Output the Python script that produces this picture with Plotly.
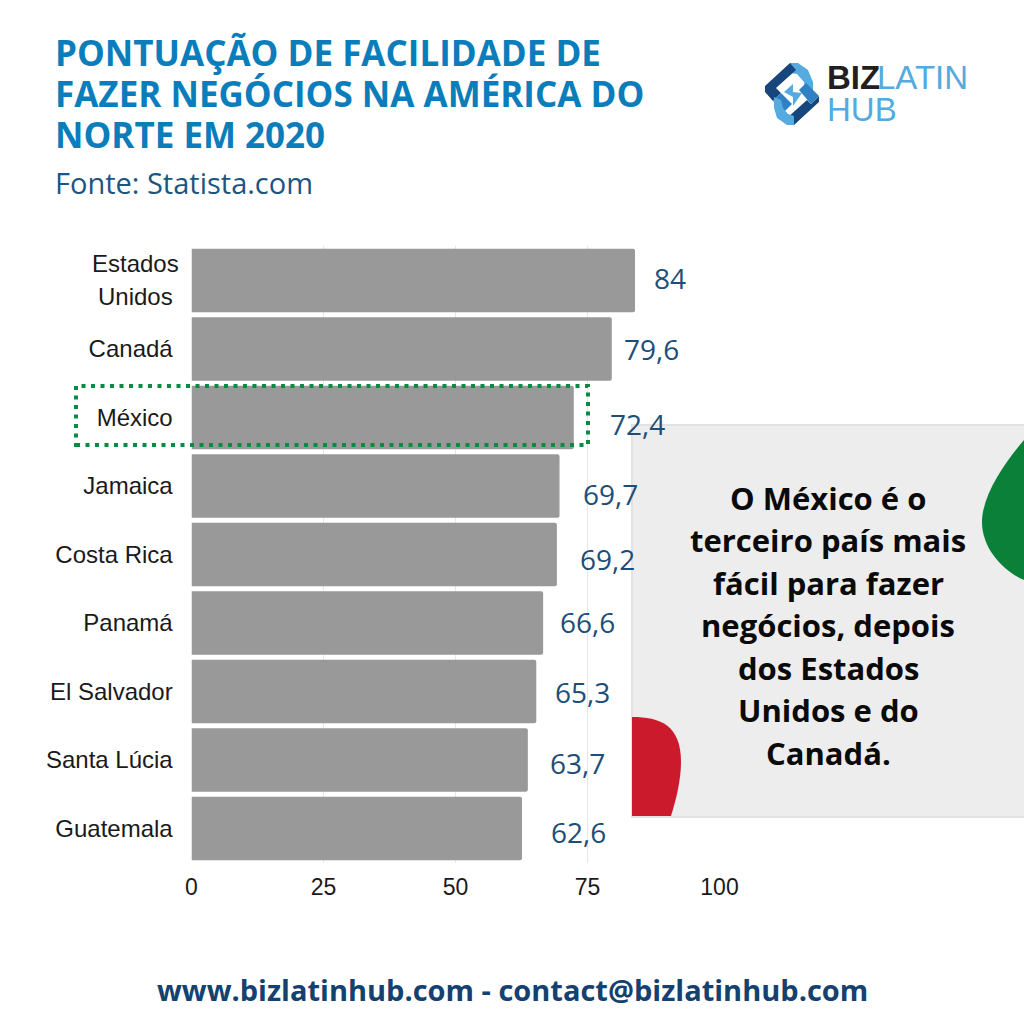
import plotly.express as px

countries = ['Estados Unidos', 'Canadá', 'México', 'Jamaica', 'Costa Rica', 'Panamá', 'El Salvador', 'Santa Lúcia', 'Guatemala']
scores = [84, 79.6, 72.4, 69.7, 69.2, 66.6, 65.3, 63.7, 62.6]
score_labels = ['84', '79,6', '72,4', '69,7', '69,2', '66,6', '65,3', '63,7', '62,6']
tick_labels = ['', 'Canadá', 'México', 'Jamaica', 'Costa Rica', 'Panamá', 'El Salvador', 'Santa Lúcia', 'Guatemala']
label_dx = [35, 40, 64, 51, 51, 44, 46, 50, 56]  # labels sit loose next to the bars
label_dy = [3, 0, -6, -8, -4, 1, 0, -3, -3]
title_lines = ['PONTUAÇÃO DE FACILIDADE DE', 'FAZER NEGÓCIOS NA AMÉRICA DO', 'NORTE EM 2020']
note_lines = ['O México é o', 'terceiro país mais', 'fácil para fazer', 'negócios, depois', 'dos Estados', 'Unidos e do', 'Canadá.']


def px_x(value):
    return value / 1024


def px_y(value):
    return 1 - value / 1024


def curve(start, segments, closed=True):
    text = f'M {px_x(start[0]):.5f} {px_y(start[1]):.5f}'
    for p1, p2, p3 in segments:
        text += f' C {px_x(p1[0]):.5f} {px_y(p1[1]):.5f} {px_x(p2[0]):.5f} {px_y(p2[1]):.5f} {px_x(p3[0]):.5f} {px_y(p3[1]):.5f}'
    return text + ' Z' if closed else text


def polygon(points):
    return 'M ' + ' L '.join(f'{px_x(x):.5f} {px_y(y):.5f}' for x, y in points) + ' Z'


def add_text(fig, x, y, text, size, color, family='Open Sans', bold=False, xanchor='left'):
    if bold:
        text = f'<b>{text}</b>'
    fig.add_annotation(xref='paper', yref='paper', x=px_x(x), y=px_y(y), text=text, showarrow=False, borderpad=0,
                       xanchor=xanchor, yanchor='middle', font=dict(family=family, size=size, color=color))


def add_blob(fig, shape, color):
    fig.add_shape(type='path', xref='paper', yref='paper', path=shape, fillcolor=color, line_width=0)


fig = px.bar(x=scores, y=countries, orientation='h', color_discrete_sequence=['#999999'])
fig.update_traces(marker_cornerradius=2, marker_line_width=0, width=0.925, hoverinfo='skip', hovertemplate=None)

fig.update_layout(width=1024, height=1024, margin=dict(l=0, r=0, t=0, b=0), paper_bgcolor='white',
                  plot_bgcolor='white', showlegend=False, font=dict(family='Liberation Sans', color='#1a1a1a'))
fig.update_xaxes(domain=[px_x(191.5), px_x(719.5)], range=[0, 100], tickvals=[0, 25, 50, 75, 100], title=None,
                 showgrid=True, gridcolor='#e6e6e6', gridwidth=1, zeroline=False, showline=False, ticks='outside',
                 ticklen=4, tickcolor='rgba(0,0,0,0)', tickfont=dict(size=23), automargin=False)
fig.update_yaxes(domain=[px_y(862.75), px_y(246.25)], categoryorder='array', categoryarray=countries,
                 autorange='reversed', tickvals=countries, ticktext=tick_labels, title=None, showgrid=False,
                 zeroline=False, showline=False, ticks='outside', ticklen=13, tickcolor='rgba(0,0,0,0)',
                 tickfont=dict(size=24), automargin=False)

# note panel and the two flag blobs
fig.add_shape(type='rect', xref='paper', yref='paper', x0=px_x(632), x1=px_x(1025), y0=px_y(817), y1=px_y(425),
              fillcolor='#ededed', line=dict(color='#e2e2e2', width=2))
add_blob(fig, curve((1024, 440), [((1005, 462), (982, 495), (982, 522)), ((982, 550), (1005, 572), (1024, 580))]), '#0a8039')
add_blob(fig, curve((632, 717), [((660, 717), (681, 725), (681, 762)), ((681, 780), (676, 800), (671, 816)), ((660, 816), (645, 816), (632, 816))]), '#cb1a2c')

# dotted frame round Mexico
fig.add_shape(type='rect', xref='paper', yref='paper', x0=px_x(76), x1=px_x(588), y0=px_y(445), y1=px_y(386),
              line=dict(color='#0a8a43', width=4, dash='4px,5.5px'))

# logo
add_blob(fig, polygon([(790, 63), (798, 63), (808, 70), (813, 82), (813, 92), (806, 92), (804, 82), (797, 74), (790, 73)]), '#55aae0')
add_blob(fig, polygon([(790, 63), (765, 86), (765, 92), (773, 101), (781, 93), (776, 88), (796, 70)]), '#17467c')
add_blob(fig, polygon([(773, 101), (781, 93), (792, 104), (785, 111)]), '#2f80c4')
add_blob(fig, polygon([(819, 96), (819, 102), (794, 125), (787, 118), (807, 100), (811, 104)]), '#17467c')
add_blob(fig, polygon([(794, 125), (787, 125), (777, 118), (774, 108), (774, 97), (781, 100), (783, 108), (788, 114), (794, 116)]), '#55aae0')
add_blob(fig, polygon([(811, 104), (819, 96), (806, 83), (799, 90)]), '#2f80c4')
add_blob(fig, polygon([(784, 92), (793, 84), (793, 92), (802, 93), (793, 106), (793, 97)]), '#55aae0')
add_text(fig, 826, 77, 'BIZ', 33, '#231f20', family='Liberation Sans', bold=True)
add_text(fig, 876, 77, 'LATIN', 33, '#55aae0', family='Liberation Sans')
add_text(fig, 826, 109, 'HUB', 33, '#55aae0', family='Liberation Sans')

for i in range(len(countries)):
    fig.add_annotation(x=scores[i], y=countries[i], text=score_labels[i], showarrow=False, xanchor='center',
                       yanchor='middle', xshift=label_dx[i], yshift=label_dy[i], borderpad=0,
                       font=dict(family='Open Sans', size=28, color='#1c4e7a'))

add_text(fig, 135.5, 263.5, 'Estados', 24, '#1a1a1a', family='Liberation Sans', xanchor='center')
add_text(fig, 135, 296.5, 'Unidos', 24, '#1a1a1a', family='Liberation Sans', xanchor='center')

for i in range(len(title_lines)):
    add_text(fig, 54, 52.5 + i * 41, title_lines[i], 35, '#0b7dbb', bold=True)
add_text(fig, 54, 182.5, 'Fonte: Statista.com', 29, '#1c5582')

for i in range(len(note_lines)):
    add_text(fig, 828, 497.5 + i * 42.5, note_lines[i], 31, '#0a0a0a', bold=True, xanchor='center')

add_text(fig, 512, 989.5, 'www.bizlatinhub.com - contact@bizlatinhub.com', 29, '#14416f', bold=True, xanchor='center')

fig.write_html('out.html', config={'displayModeBar': False}, post_script="document.body.style.margin='0';")
